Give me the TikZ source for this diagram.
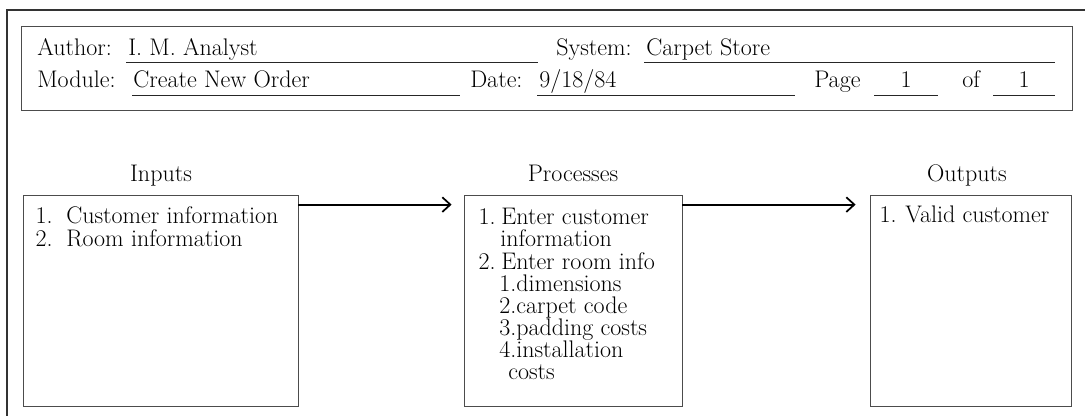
\documentclass[tikz,border=0pt]{standalone}
\usepackage{fontspec}
\usetikzlibrary{arrows.meta,fit,calc}
\begin{document}
\begin{tikzpicture}[x=0.75pt,y=-0.75pt,
  txt/.style={anchor=base west, inner sep=0pt, font=\fontsize{18}{21}\selectfont},
  ntxt/.style={anchor=base east, inner sep=0pt, font=\fontsize{18}{21}\selectfont},
  ctxt/.style={anchor=base, inner sep=0pt, font=\fontsize{18}{21}\selectfont},
  box/.style={draw=black!70, line width=0.6pt, inner sep=0pt},
  frame/.style={draw=black!80, line width=0.9pt},
  uline/.style={draw=black!85, line width=0.6pt},
  arr/.style={-{Straight Barb[length=6pt,width=11pt,line width=1.3pt]}, line width=1.4pt}]
\useasboundingbox (0,0) rectangle (1085,416);
% outer frame
\draw[frame] (1085,10) -- (7,10) -- (7,416);
% header box
\node[box, fit={(21,26) (1072,110)}] (hdr) {};
\node[txt] (authl) at (37,56) {Author:};
\node[txt] (authv) at (128,56) {I. M. Analyst};
\draw[uline] (126,62) -- (538,62);
\node[ntxt] (sysl) at (632,56) {System:};
\node[txt] (sysv) at (646,56) {Carpet Store};
\draw[uline] (644,62) -- (1055,62);
\node[txt] (modl) at (37,88) {Module:};
\node[txt] (modv) at (133,88) {Create New Order};
\draw[uline] (132,95) -- (460,95);
\node[txt] (datel) at (470,88) {Date:};
\node[txt] (datev) at (539,88) {9/18/84};
\draw[uline] (537,95) -- (795,95);
\node[txt] (pagel) at (814,88) {Page};
\node[ctxt] (pagev) at (906,88) {1};
\draw[uline] (874,95) -- (938,95);
\node[txt] (ofl) at (962,88) {of};
\node[ctxt] (ofv) at (1024,88) {1};
\draw[uline] (993,95) -- (1055,95);
% boxes
\node[box, fit={(23,195) (298,406)}] (in) {};
\node[box, fit={(464,195) (682,406)}] (proc) {};
\node[box, fit={(870,195) (1071,406)}] (out) {};
% titles
\node[ctxt] (inl) at (161,182) {Inputs};
\node[ctxt] (procl) at (573,182) {Processes};
\node[ctxt] (outl) at (967,182) {Outputs};
% inputs text
\node[ntxt] (i1n) at (53,224) {1.};
\node[txt] (i1) at (66,224) {Customer information};
\node[ntxt] (i2n) at (53,247) {2.};
\node[txt] (i2) at (66,247) {Room information};
% processes text
\node[ntxt] (p1n) at (496,225) {1.};
\node[txt] (p1) at (501,225) {Enter customer};
\node[txt] (p1b) at (500,247) {information};
\node[ntxt] (p2n) at (496,270) {2.};
\node[txt] (p2) at (501,270) {Enter room info};
\node[txt] (p21) at (499,292) {1.dimensions};
\node[txt] (p22) at (499,314) {2.carpet code};
\node[txt] (p23) at (499,336) {3.padding costs};
\node[txt] (p24) at (499,358) {4.installation};
\node[txt] (p24b) at (508,380) {costs};
% outputs text
\node[ntxt] (o1n) at (897,223) {1.};
\node[txt] (o1) at (905,223) {Valid customer};
% arrows
\draw[arr] ($(in.north east)+(0,10)$) -- ($(proc.north west)+(-12,10)$);
\draw[arr] ($(proc.north east)+(0,10)$) -- ($(out.north west)+(-14,10)$);
\end{tikzpicture}
\end{document}
